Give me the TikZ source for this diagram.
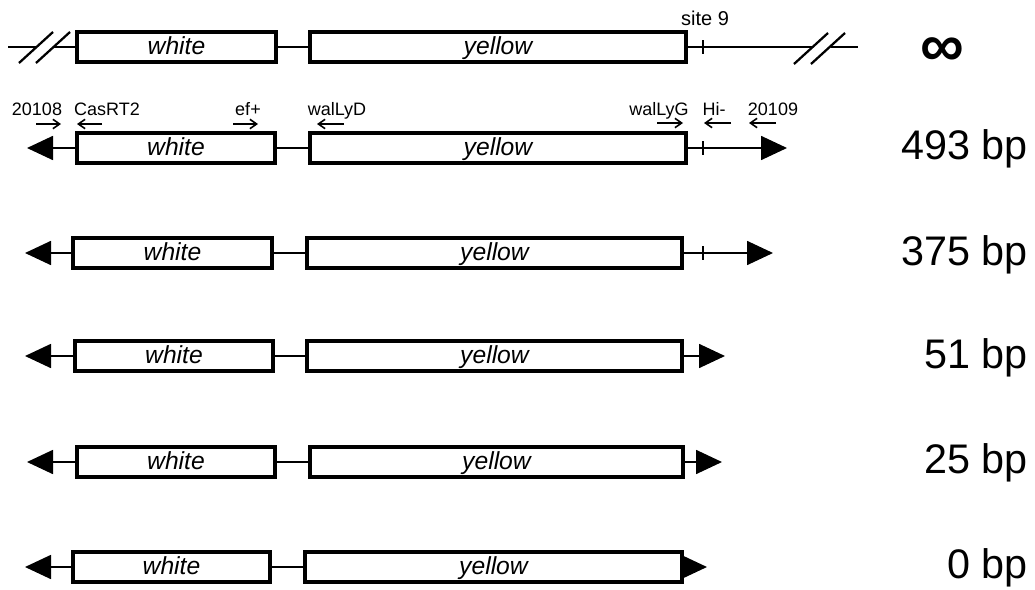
\documentclass[tikz,border=0pt]{standalone}
\usepackage{fontspec}
\setmainfont{Liberation Sans}
\usetikzlibrary{arrows.meta}
\newcommand\genebox[5]{\node[gene, minimum width={(#3-#2)*0.75pt}] (#1) at (#2,#4) {#5};}
\begin{document}
\begin{tikzpicture}[x=0.75pt,y=-0.75pt,
  gene/.style={draw, line width=2.6pt, inner sep=0pt, outer sep=0pt, minimum height=22.5pt,
    text height=14pt, text depth=3pt, font=\fontsize{18.5}{18.5}\selectfont\itshape, anchor=west},
  link/.style={line width=1.3pt},
  endarrow/.style={line width=1.3pt, -{Triangle[length=19.5pt,width=18pt]}},
  slash/.style={line width=1.7pt},
  tickmark/.style={line width=1.4pt},
  primer/.style={line width=1.2pt, -{Straight Barb[length=5pt,width=7pt]}},
  plabel/.style={font=\fontsize{13.5}{13.5}\selectfont, anchor=base, inner sep=0pt},
  size/.style={font=\fontsize{31}{31}\selectfont, anchor=base east, inner sep=0pt}
]
\useasboundingbox (0,0) rectangle (1035,589);

% Row 1: infinity
\genebox{w1}{77}{276}{47}{white}
\genebox{y1}{310}{686}{47}{yellow}
\draw[link] (w1.east) -- (y1.west);
\coordinate (la) at (8,47); \coordinate (lb) at (37,47); \coordinate (lc) at (54,47);
\draw[link] (la) -- (lb);
\draw[link] (lc) -- (w1.west);
\draw[slash] (19,63) -- (53,32);
\draw[slash] (36,63) -- (70,32);
\coordinate (ra) at (813,47); \coordinate (rb) at (831,47); \coordinate (rc) at (858,47);
\draw[link] (y1.east) -- (ra);
\draw[link] (rb) -- (rc);
\draw[slash] (794,64) -- (828,33);
\draw[slash] (811,64) -- (845,33);
\draw[tickmark] (703,40) -- (703,54);
\node[font=\fontsize{15}{15}\selectfont, anchor=base, inner sep=0pt] (site) at (705,25) {site 9};
\node[font=\fontsize{46}{46}\selectfont\bfseries, anchor=base, inner sep=0pt] (inf) at (942,66) {∞};

% Row 2: 493 bp
\genebox{w2}{77}{275}{148}{white}
\genebox{y2}{310}{686}{148}{yellow}
\draw[link] (w2.east) -- (y2.west);
\coordinate (t2l) at (27,148); \coordinate (t2r) at (787,148);
\draw[endarrow] (w2.west) -- (t2l);
\draw[endarrow] (y2.east) -- (t2r);
\draw[tickmark] (703,141) -- (703,155);
\node[size] (s2) at (1028,159) {493 bp};
% primers
\node[plabel] (p1) at (37,115) {20108};
\draw[primer] (36,124) -- (61,124);
\node[plabel] (p2) at (107,115) {CasRT2};
\draw[primer] (102,124) -- (77,124);
\node[plabel] (p3) at (248,115) {ef+};
\draw[primer] (233,124) -- (258,124);
\node[plabel] (p4) at (337,115) {walLyD};
\draw[primer] (344,124) -- (317,124);
\node[plabel] (p5) at (659,115) {walLyG};
\draw[primer] (657,123) -- (683,123);
\node[plabel] (p6) at (714,115) {Hi-};
\draw[primer] (731,123) -- (704,123);
\node[plabel] (p7) at (773,115) {20109};
\draw[primer] (776,123) -- (749,123);

% Row 3: 375 bp
\genebox{w3}{73}{272}{253}{white}
\genebox{y3}{307}{682}{253}{yellow}
\draw[link] (w3.east) -- (y3.west);
\coordinate (t3l) at (25,253); \coordinate (t3r) at (773,253);
\draw[endarrow] (w3.west) -- (t3l);
\draw[endarrow] (y3.east) -- (t3r);
\draw[tickmark] (703,246) -- (703,260);
\node[size] (s3) at (1028,265) {375 bp};

% Row 4: 51 bp
\genebox{w4}{75}{273}{356}{white}
\genebox{y4}{307}{682}{356}{yellow}
\draw[link] (w4.east) -- (y4.west);
\coordinate (t4l) at (25,356); \coordinate (t4r) at (725,356);
\draw[endarrow] (w4.west) -- (t4l);
\draw[endarrow] (y4.east) -- (t4r);
\node[size] (s4) at (1028,368) {51 bp};

% Row 5: 25 bp
\genebox{w5}{77}{275}{462}{white}
\genebox{y5}{310}{683}{462}{yellow}
\draw[link] (w5.east) -- (y5.west);
\coordinate (t5l) at (27,462); \coordinate (t5r) at (722,462);
\draw[endarrow] (w5.west) -- (t5l);
\draw[endarrow] (y5.east) -- (t5r);
\node[size] (s5) at (1028,473) {25 bp};

% Row 6: 0 bp
\genebox{w6}{73}{270}{567}{white}
\genebox{y6}{305}{682}{567}{yellow}
\draw[link] (w6.east) -- (y6.west);
\coordinate (t6l) at (25,567); \coordinate (t6r) at (707,567);
\draw[endarrow] (w6.west) -- (t6l);
\draw[endarrow] (y6.east) -- (t6r);
\node[size] (s6) at (1028,578) {0 bp};
\end{tikzpicture}
\end{document}
